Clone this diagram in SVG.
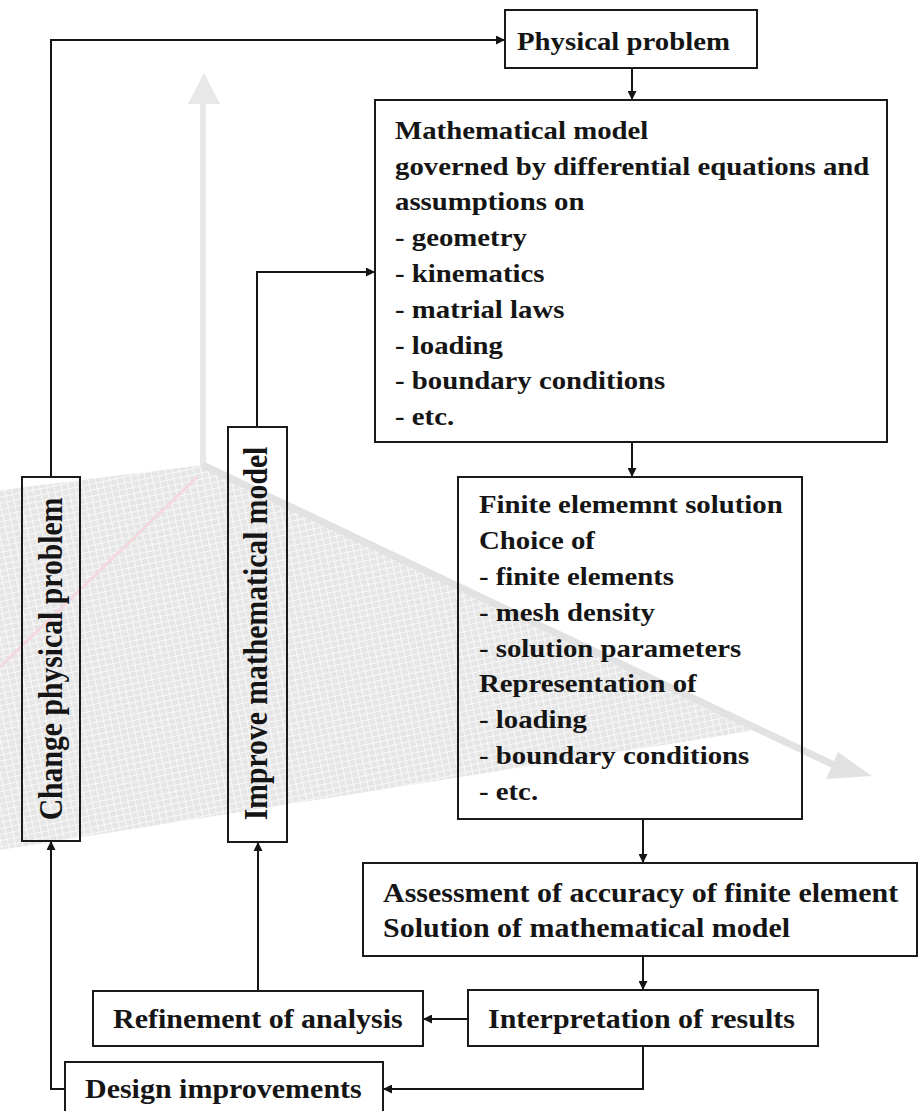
<svg xmlns="http://www.w3.org/2000/svg" width="918" height="1111" viewBox="0 0 918 1111">
<style>
.box{fill:none;stroke:#1a1a1a;stroke-width:2}
.t{font-family:"Liberation Serif","Times New Roman",serif;font-weight:bold;fill:#151515}
.s{font-size:28.8px}
.b{font-size:30px}
.v{font-size:33px}
.c{fill:none;stroke:#151515;stroke-width:2}
</style>
<defs>
<marker id="ah" markerUnits="userSpaceOnUse" markerWidth="10" markerHeight="9" refX="9" refY="4.5" orient="auto">
<path d="M0,0 L9,4.5 L0,9 z" fill="#151515"/>
</marker>
<pattern id="mesh" patternUnits="userSpaceOnUse" width="7" height="6" patternTransform="rotate(-12)">
<rect width="7" height="6" fill="#e2e2e2"/>
<path d="M0,0.5 H7 M0.5,0 V6" stroke="#f6f6f6" stroke-width="1.2"/>
</pattern>
</defs>
<rect width="918" height="1111" fill="#ffffff"/>
<g id="background">
<polygon points="0,490 203,465 758,730 0,850" fill="url(#mesh)" opacity="0.85"/>
<line x1="197" y1="477" x2="0" y2="667" stroke="#f4d8de" stroke-width="3"/>
<line x1="203" y1="467" x2="203" y2="100" stroke="#e8e8e8" stroke-width="6"/>
<polygon points="188,104 220,104 204,73" fill="#e8e8e8"/>
<line x1="203" y1="465" x2="836" y2="766" stroke="#e2e2e2" stroke-width="7"/>
<polygon points="872,776 838,752 826,779" fill="#e2e2e2"/>
</g>
<g id="connectors">
<path class="c" d="M632,68 V100" marker-end="url(#ah)"/>
<path class="c" d="M632,442 V477" marker-end="url(#ah)"/>
<path class="c" d="M643,819 V863" marker-end="url(#ah)"/>
<path class="c" d="M643,956 V990" marker-end="url(#ah)"/>
<path class="c" d="M468,1019 H423" marker-end="url(#ah)"/>
<path class="c" d="M643,1046 V1089 H383" marker-end="url(#ah)"/>
<path class="c" d="M258,991 V842" marker-end="url(#ah)"/>
<path class="c" d="M257,427 V272 H375" marker-end="url(#ah)"/>
<path class="c" d="M65,1089 H51 V841" marker-end="url(#ah)"/>
<path class="c" d="M51,477 V40 H505" marker-end="url(#ah)"/>
</g>
<g id="physical">
<rect class="box" x="505" y="10" width="252" height="58"/>
<text class="t s" transform="scale(1 0.9)" x="517" y="55.6">Physical problem</text>
</g>
<g id="math">
<rect class="box" x="375" y="100" width="512" height="342"/>
<text class="t s" transform="scale(1 0.9)" x="395">
<tspan x="395" y="154.4">Mathematical model</tspan>
<tspan x="395" y="194.2">governed by differential equations and</tspan>
<tspan x="395" y="233.9">assumptions on</tspan>
<tspan x="395" y="273.6">- geometry</tspan>
<tspan x="395" y="313.3">- kinematics</tspan>
<tspan x="395" y="353.1">- matrial laws</tspan>
<tspan x="395" y="392.8">- loading</tspan>
<tspan x="395" y="432.5">- boundary conditions</tspan>
<tspan x="395" y="472.2">- etc.</tspan>
</text>
</g>
<g id="fe">
<rect class="box" x="458" y="477" width="344" height="342"/>
<text class="t s" transform="scale(1 0.9)">
<tspan x="479" y="570">Finite elememnt solution</tspan>
<tspan x="479" y="609.9">Choice of</tspan>
<tspan x="479" y="649.8">- finite elements</tspan>
<tspan x="479" y="689.7">- mesh density</tspan>
<tspan x="479" y="729.6">- solution parameters</tspan>
<tspan x="479" y="769.4">Representation of</tspan>
<tspan x="479" y="809.3">- loading</tspan>
<tspan x="479" y="849.2">- boundary conditions</tspan>
<tspan x="479" y="889.1">- etc.</tspan>
</text>
</g>
<g id="assessment">
<rect class="box" x="363" y="863" width="554" height="93"/>
<text class="t b" transform="scale(1 0.9)">
<tspan x="383" y="1002.2">Assessment of accuracy of finite element</tspan>
<tspan x="383" y="1041.1">Solution of mathematical model</tspan>
</text>
</g>
<g id="interpretation">
<rect class="box" x="468" y="990" width="350" height="56"/>
<text class="t b" transform="scale(1 0.9)" x="488" y="1142.2">Interpretation of results</text>
</g>
<g id="refinement">
<rect class="box" x="93" y="991" width="330" height="55"/>
<text class="t b" transform="scale(1 0.9)" x="113" y="1142.2">Refinement of analysis</text>
</g>
<g id="design">
<rect class="box" x="65" y="1062" width="318" height="60"/>
<text class="t b" transform="scale(1 0.9)" x="85" y="1220">Design improvements</text>
</g>
<g id="change">
<rect class="box" x="22" y="477" width="58" height="364"/>
<g transform="scale(1 0.9)">
<text class="t v" text-anchor="middle" transform="rotate(-90 62 732.2)" x="62" y="732.2">Change physical problem</text>
</g>
</g>
<g id="improve">
<rect class="box" x="228" y="427" width="59" height="415"/>
<g transform="scale(1 0.9)">
<text class="t v" text-anchor="middle" transform="rotate(-90 267 703.9)" x="267" y="703.9">Improve mathematical model</text>
</g>
</g>
</svg>
